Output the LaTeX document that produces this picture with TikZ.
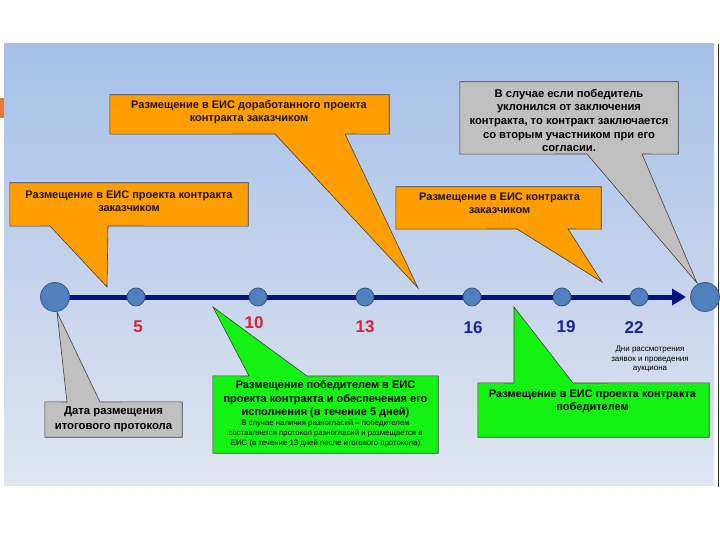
\documentclass[tikz,border=0pt]{standalone}
\usepackage{fontspec}
\setmainfont{Liberation Sans}
\usetikzlibrary{arrows.meta}
\pgfdeclarelayer{bg}
\pgfdeclarelayer{mid}
\pgfsetlayers{bg,mid,main}
\definecolor{bgtop}{RGB}{166,192,232}
\definecolor{bgbottom}{RGB}{224,229,240}
\definecolor{orangeC}{RGB}{255,158,0}
\definecolor{grayC}{RGB}{192,192,192}
\definecolor{greenC}{RGB}{20,242,20}
\definecolor{dotblue}{RGB}{80,128,190}
\definecolor{dotedge}{RGB}{50,80,125}
\definecolor{navyC}{RGB}{5,20,130}
\definecolor{redNum}{RGB}{215,35,60}
\definecolor{blueNum}{RGB}{25,35,150}
\definecolor{markC}{RGB}{235,120,50}
\definecolor{boxText}{RGB}{30,20,15}
\begin{document}
\begin{tikzpicture}[x=1pt,y=-1pt,
  boxshape/.style={rectangle, inner sep=0pt},
  boxtext/.style={inner sep=0pt, align=center, text=boxText, font=\bfseries\fontsize{11}{13}\selectfont},
  calloutline/.style={draw=black!75, line width=0.6pt, line join=miter},
  dot/.style={circle, fill=dotblue, draw=dotedge, line width=0.7pt, inner sep=0pt, minimum size=18pt},
  bigdot/.style={dot, minimum size=29pt},
  daynum/.style={inner sep=0pt, font=\bfseries\fontsize{17}{17}\selectfont}
]
\useasboundingbox (0,0) rectangle (720,540);
\begin{pgfonlayer}{bg}
  \shade[top color=bgtop, bottom color=bgbottom] (4,44) rectangle (714,485);
  \fill[markC] (0,98) rectangle (4,118);
  \draw[black!80, line width=1.2pt] (718.5,44) -- (718.5,487);
\end{pgfonlayer}

% boxes (shapes)
\node[boxshape, minimum width=238pt, minimum height=43pt] (b1) at (129,204.5) {};
\node[boxshape, minimum width=279pt, minimum height=39pt] (b2) at (249.5,114.5) {};
\node[boxshape, minimum width=218pt, minimum height=72pt] (b3) at (569,118) {};
\node[boxshape, minimum width=205pt, minimum height=42pt] (b4) at (498.5,208) {};
\node[boxshape, minimum width=137pt, minimum height=35pt] (b5) at (113.5,419.5) {};
\node[boxshape, minimum width=225pt, minimum height=77pt] (b6) at (325.5,414.5) {};
\node[boxshape, minimum width=231pt, minimum height=54pt] (b7) at (593.5,410) {};

% timeline dots
\node[bigdot] (c0) at (55,297) {};
\node[dot] (c5) at (136,297) {};
\node[dot] (c10) at (258,297) {};
\node[dot] (c13) at (365,297) {};
\node[dot] (c16) at (472,297) {};
\node[dot] (c19) at (562,297) {};
\node[dot] (c22) at (639,297) {};
\node[bigdot] (cend) at (705,297) {};
\coordinate (arr) at (686,297);

% callout tips
\coordinate (t1) at (107,287);
\coordinate (t2) at (418,288);
\coordinate (t3) at (697,283);
\coordinate (t4) at (602,282);
\coordinate (t5) at (57,312);
\coordinate (t6) at (213,307);
\coordinate (t7) at (514,307);

\begin{pgfonlayer}{mid}
  \filldraw[calloutline, fill=orangeC] (b1.north west) -- (b1.north east) -- (b1.south east)
     -- (108,226) -- (t1) -- (50,226) -- (b1.south west) -- cycle;
  \filldraw[calloutline, fill=orangeC] (b2.north west) -- (b2.north east) -- (b2.south east)
     -- (345,134) -- (t2) -- (275,134) -- (b2.south west) -- cycle;
  \filldraw[calloutline, fill=grayC] (b3.north west) -- (b3.north east) -- (b3.south east)
     -- (642,154) -- (t3) -- (587,154) -- (b3.south west) -- cycle;
  \filldraw[calloutline, fill=orangeC] (b4.north west) -- (b4.north east) -- (b4.south east)
     -- (568,229) -- (t4) -- (517,229) -- (b4.south west) -- cycle;
  \filldraw[calloutline, fill=grayC] (b5.south west) -- (b5.south east) -- (b5.north east)
     -- (100,402) -- (t5) -- (67,402) -- (b5.north west) -- cycle;
  \filldraw[calloutline, fill=greenC] (b6.south west) -- (b6.south east) -- (b6.north east)
     -- (307,376) -- (t6) -- (249,376) -- (b6.north west) -- cycle;
  \filldraw[calloutline, fill=greenC] (b7.south west) -- (b7.south east) -- (b7.north east)
     -- (573,383) -- (t7) -- (514,383) -- (b7.north west) -- cycle;
  \draw[navyC, line width=5pt, -{Triangle[length=14pt,width=16pt]}] (c0.center) -- (arr);
\end{pgfonlayer}

% box texts
\node[boxtext] (b1t) at (129,201.5) {Размещение в ЕИС проекта контракта\\заказчиком};
\node[boxtext] (b2t) at (249,112.5) {Размещение в ЕИС доработанного проекта\\контракта заказчиком};
\node[boxtext, text=black, font=\bfseries\fontsize{11.2}{13.7}\selectfont] (b3t) at (569,120.5) {В случае если победитель\\уклонился от заключения\\контракта, то контракт заключается\\со вторым участником при его\\согласии.};
\node[boxtext] (b4t) at (499.5,203.5) {Размещение в ЕИС контракта\\заказчиком};
\node[boxtext, text=black, font=\bfseries\fontsize{11.3}{15}\selectfont] (b5t) at (113.5,419.5) {Дата размещения\\итогового протокола};
\node[boxtext, text=black, font=\bfseries\fontsize{11}{13.5}\selectfont] (b6t) at (325.5,399.5) {Размещение победителем в ЕИС\\проекта контракта и обеспечения его\\исполнения (в течение 5 дней)};
\node[boxtext, text=black, font=\fontsize{7.8}{10}\selectfont] (b6s) at (325.5,433) {В случае наличия разногласий – победителем\\составляется протокол разногласий и размещается в\\ЕИС (в течение 13 дней после итогового протокола)};
\node[boxtext, text=black] (b7t) at (592.5,401) {Размещение в ЕИС проекта контракта\\победителем};

% day numbers
\node[daynum, text=redNum] (n5) at (138,327) {5};
\node[daynum, text=redNum] (n10) at (254,323) {10};
\node[daynum, text=redNum] (n13) at (365,327) {13};
\node[daynum, text=blueNum] (n16) at (473,328) {16};
\node[daynum, text=blueNum] (n19) at (566,327) {19};
\node[daynum, text=blueNum] (n22) at (634,328) {22};
\node[inner sep=0pt, align=center, font=\fontsize{8}{9.5}\selectfont] (days) at (650,359.5) {Дни рассмотрения\\заявок и проведения\\аукциона};
\end{tikzpicture}
\end{document}
